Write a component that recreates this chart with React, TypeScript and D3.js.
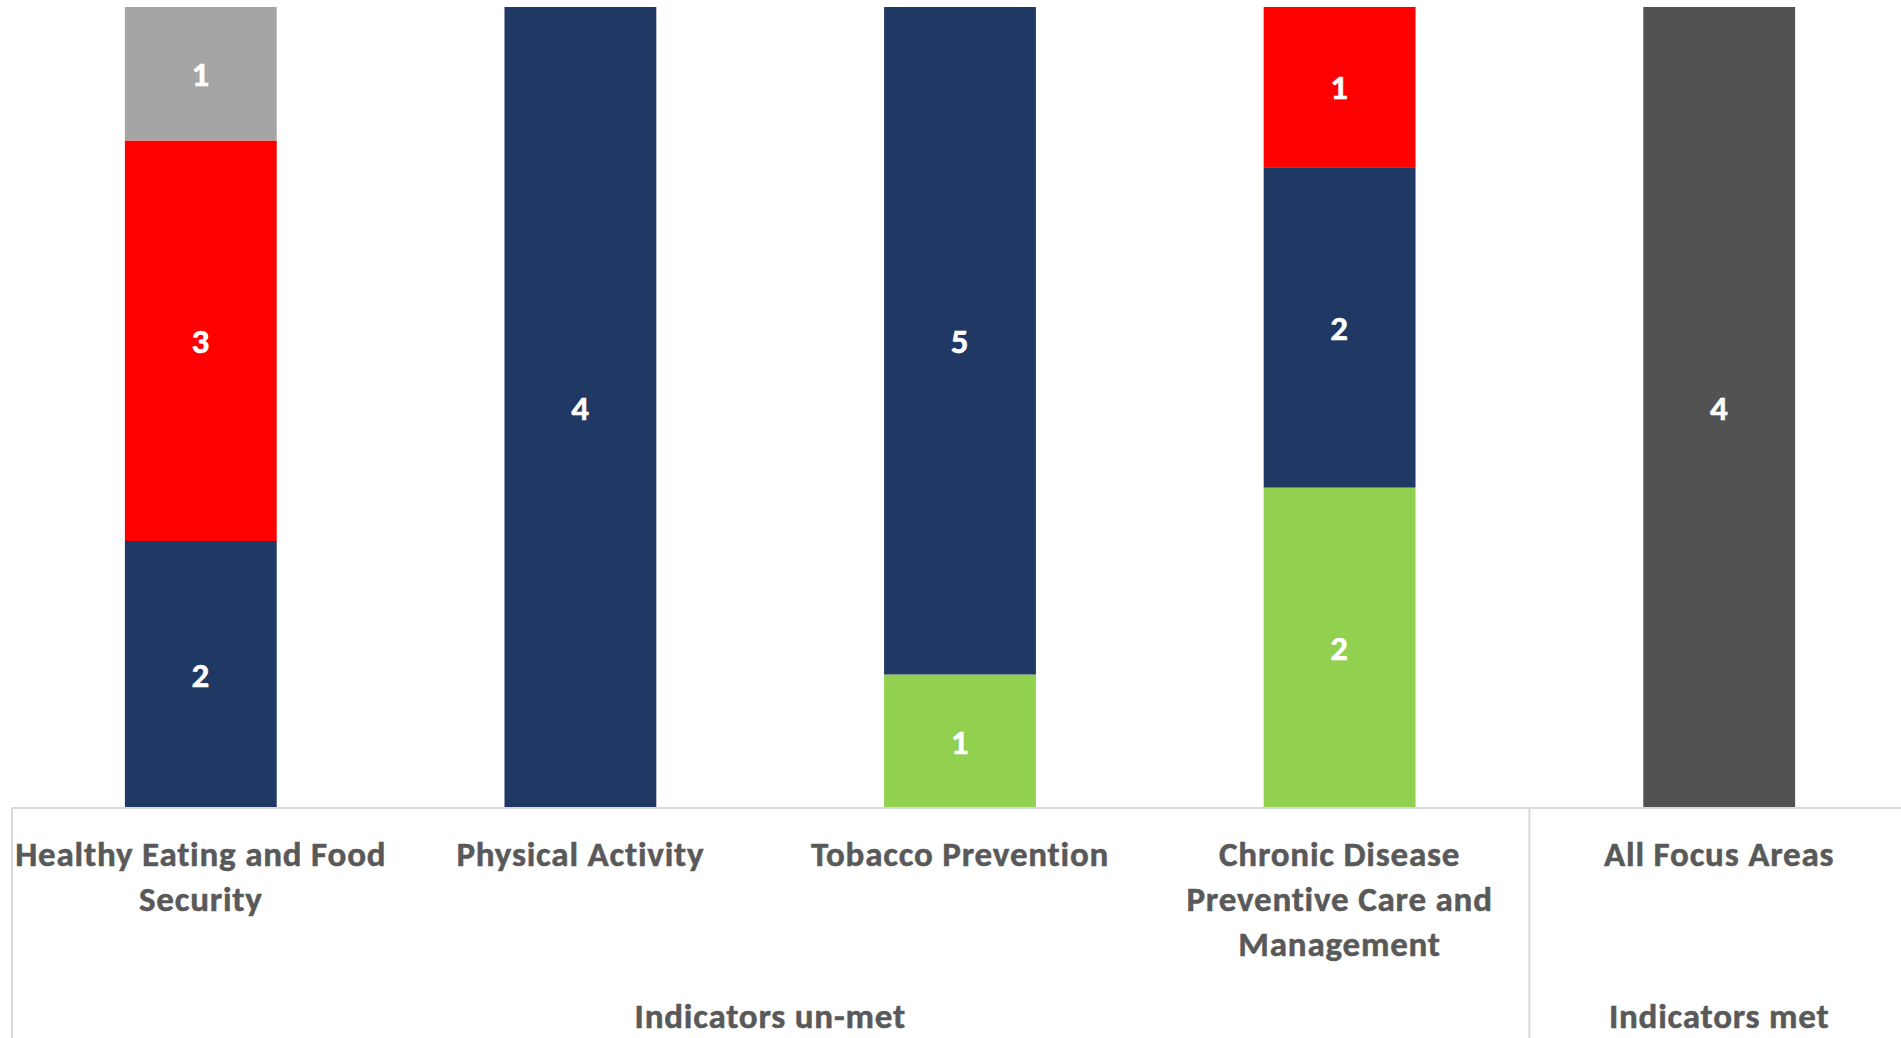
import React from "react";
import * as d3 from "d3";

const categories = [
  "Healthy Eating and Food Security",
  "Physical Activity",
  "Tobacco Prevention",
  "Chronic Disease Preventive Care and Management",
  "All Focus Areas",
];
const categoryLines = [
  ["Healthy Eating and Food", "Security"],
  ["Physical Activity"],
  ["Tobacco Prevention"],
  ["Chronic Disease", "Preventive Care and", "Management"],
  ["All Focus Areas"],
];
const groupLabels = ["Indicators un-met", "Indicators met"];
const groupSpans = [
  [0, 3],
  [4, 4],
];

// stacked bottom -> top
const seriesNames = ["Green", "Navy", "Red", "Grey", "Met"];
const greenValues = [0, 0, 1, 2, 0];
const navyValues = [2, 4, 5, 2, 0];
const redValues = [3, 0, 0, 1, 0];
const greyValues = [1, 0, 0, 0, 0];
const metValues = [0, 0, 0, 0, 4];
const seriesColors = ["#92D050", "#203864", "#FF0000", "#A5A5A5", "#525252"];

const W = 1901;
const H = 1038;
const FONT = "Carlito, Calibri, Lato, 'Open Sans', sans-serif";

export default function App() {
  const seriesValues = [greenValues, navyValues, redValues, greyValues, metValues];
  const rows = categories.map((c, i) => {
    const r: any = { cat: c };
    seriesNames.forEach((s, k) => (r[s] = seriesValues[k][i]));
    return r;
  });
  const stacked = d3.stack().keys(seriesNames).offset(d3.stackOffsetExpand)(rows);

  const x = d3.scaleBand().domain(categories).range([11, 1909]).padding(0);
  const y = d3.scaleLinear().domain([0, 1]).range([808, 7]);
  const bw = x.bandwidth() * 0.4;
  const lineColor = "#D9D9D9";
  const textColor = "#595959";
  const textProps = {
    fontFamily: FONT,
    fontWeight: "bold",
    fontSize: 35,
    letterSpacing: 0.8,
    strokeWidth: 0.5,
  };

  return (
    <svg
      width={W}
      height={H}
      style={{ position: "absolute", left: 0, top: 0, background: "#fff" }}
    >
      {stacked.map((s, k) =>
        s.map((d, i) => {
          const v = seriesValues[k][i];
          if (!v) return null;
          const cx = (x(categories[i]) as number) + x.bandwidth() / 2;
          const y0 = y(d[0]);
          const y1 = y(d[1]);
          return (
            <g key={`${k}-${i}`}>
              <rect x={cx - bw / 2} y={y1} width={bw} height={y0 - y1} fill={seriesColors[k]} />
              <text
                x={cx}
                y={(y0 + y1) / 2}
                dy="0.35em"
                textAnchor="middle"
                fill="#fff"
                stroke="#fff"
                {...textProps}
              >
                {v}
              </text>
            </g>
          );
        })
      )}
      <line x1={12} x2={W} y1={808} y2={808} stroke={lineColor} strokeWidth={2} />
      <line x1={12} x2={12} y1={808} y2={H} stroke={lineColor} strokeWidth={2} />
      <line
        x1={x(categories[4]) as number}
        x2={x(categories[4]) as number}
        y1={808}
        y2={H}
        stroke={lineColor}
        strokeWidth={2}
      />
      {categoryLines.map((lines, i) => {
        const cx = (x(categories[i]) as number) + x.bandwidth() / 2;
        return (
          <text key={i} textAnchor="middle" fill={textColor} stroke={textColor} {...textProps}>
            {lines.map((l, j) => (
              <tspan key={j} x={cx} y={866 + j * 45}>
                {l}
              </tspan>
            ))}
          </text>
        );
      })}
      {groupLabels.map((g, i) => {
        const [a, b] = groupSpans[i];
        const cx =
          ((x(categories[a]) as number) + (x(categories[b]) as number) + x.bandwidth()) / 2;
        return (
          <text
            key={g}
            x={cx}
            y={1028}
            textAnchor="middle"
            fill={textColor}
            stroke={textColor}
            {...textProps}
          >
            {g}
          </text>
        );
      })}
    </svg>
  );
}
